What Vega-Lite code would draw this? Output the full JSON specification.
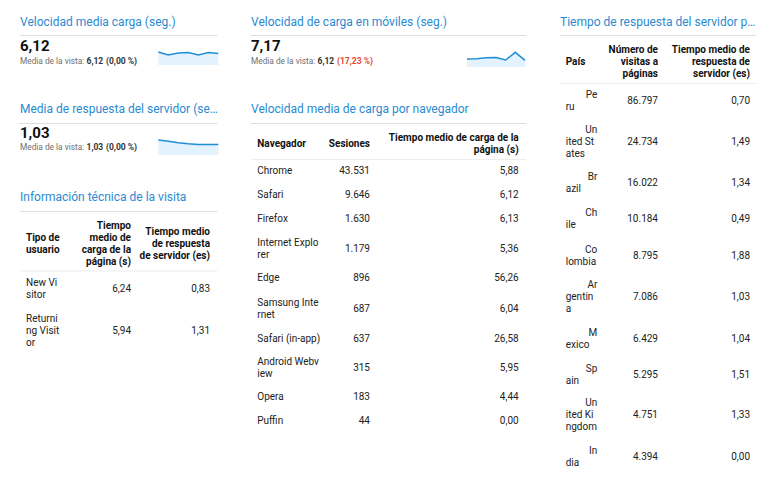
{
  "$schema": "https://vega.github.io/schema/vega-lite/v6.json",
  "width": 771,
  "height": 492,
  "padding": 0,
  "autosize": {"type": "none"},
  "background": "#ffffff",
  "config": {
    "view": {"stroke": null},
    "font": "Roboto",
    "text": {"font": "Roboto"},
    "locale": {"number": {"decimal": ",", "thousands": ".", "grouping": [3], "currency": ["", " €"]}}
  },
  "datasets": {
    "titulos": [
      {"col": 0, "fila": 0, "titulo": "Velocidad media carga (seg.)"},
      {"col": 1, "fila": 0, "titulo": "Velocidad de carga en móviles (seg.)"},
      {"col": 2, "fila": 0, "titulo": "Tiempo de respuesta del servidor p…"},
      {"col": 0, "fila": 1, "titulo": "Media de respuesta del servidor (se…"},
      {"col": 1, "fila": 1, "titulo": "Velocidad media de carga por navegador"},
      {"col": 0, "fila": 2, "titulo": "Información técnica de la visita"}
    ],
    "tablas": [
      {"col": 0, "tabla": "Información técnica de la visita"},
      {"col": 1, "tabla": "Velocidad media de carga por navegador"},
      {"col": 2, "tabla": "Tiempo de respuesta del servidor por país"}
    ],
    "kpis": [
      {"col": 0, "fila": 0, "kpi": "carga", "valor": 6.12, "media": 6.12, "variacion": "(0,00 %)", "estado": "igual"},
      {"col": 1, "fila": 0, "kpi": "movil", "valor": 7.17, "media": 6.12, "variacion": "(17,23 %)", "estado": "peor"},
      {"col": 0, "fila": 1, "kpi": "servidor", "valor": 1.03, "media": 1.03, "variacion": "(0,00 %)", "estado": "igual"}
    ],
    "tendencias": [
      {"kpi": "carga", "dia": 1, "valor": 6.19},
      {"kpi": "carga", "dia": 2, "valor": 6.03},
      {"kpi": "carga", "dia": 3, "valor": 6.14},
      {"kpi": "carga", "dia": 4, "valor": 6.17},
      {"kpi": "carga", "dia": 5, "valor": 6.03},
      {"kpi": "carga", "dia": 6, "valor": 6.17},
      {"kpi": "carga", "dia": 7, "valor": 6.11},
      {"kpi": "movil", "dia": 1, "valor": 6.91},
      {"kpi": "movil", "dia": 2, "valor": 6.95},
      {"kpi": "movil", "dia": 3, "valor": 7.12},
      {"kpi": "movil", "dia": 4, "valor": 7.18},
      {"kpi": "movil", "dia": 5, "valor": 6.74},
      {"kpi": "movil", "dia": 6, "valor": 8.09},
      {"kpi": "movil", "dia": 7, "valor": 6.68},
      {"kpi": "servidor", "dia": 1, "valor": 1.21},
      {"kpi": "servidor", "dia": 2, "valor": 1.15},
      {"kpi": "servidor", "dia": 3, "valor": 1.08},
      {"kpi": "servidor", "dia": 4, "valor": 1.03},
      {"kpi": "servidor", "dia": 5, "valor": 1.0},
      {"kpi": "servidor", "dia": 6, "valor": 1.0},
      {"kpi": "servidor", "dia": 7, "valor": 1.0}
    ],
    "usuarios": [
      {"fila": 0, "columna": 1, "texto": "Tipo de\nusuario"},
      {"fila": 0, "columna": 2, "texto": "Tiempo\nmedio de\ncarga de la\npágina (s)"},
      {"fila": 0, "columna": 3, "texto": "Tiempo medio\nde respuesta\nde servidor (es)"},
      {"fila": 1, "columna": 1, "texto": "New Vi\nsitor"},
      {"fila": 1, "columna": 2, "valor": 6.24},
      {"fila": 1, "columna": 3, "valor": 0.83},
      {"fila": 2, "columna": 1, "texto": "Returni\nng Visit\nor"},
      {"fila": 2, "columna": 2, "valor": 5.94},
      {"fila": 2, "columna": 3, "valor": 1.31}
    ],
    "navegadores": [
      {"fila": 0, "columna": 1, "texto": "Navegador"},
      {"fila": 0, "columna": 2, "texto": "Sesiones"},
      {"fila": 0, "columna": 3, "texto": "Tiempo medio de carga de la\npágina (s)"},
      {"fila": 1, "columna": 1, "texto": "Chrome"},
      {"fila": 1, "columna": 2, "valor": 43531},
      {"fila": 1, "columna": 3, "valor": 5.88},
      {"fila": 2, "columna": 1, "texto": "Safari"},
      {"fila": 2, "columna": 2, "valor": 9646},
      {"fila": 2, "columna": 3, "valor": 6.12},
      {"fila": 3, "columna": 1, "texto": "Firefox"},
      {"fila": 3, "columna": 2, "valor": 1630},
      {"fila": 3, "columna": 3, "valor": 6.13},
      {"fila": 4, "columna": 1, "texto": "Internet Explo\nrer"},
      {"fila": 4, "columna": 2, "valor": 1179},
      {"fila": 4, "columna": 3, "valor": 5.36},
      {"fila": 5, "columna": 1, "texto": "Edge"},
      {"fila": 5, "columna": 2, "valor": 896},
      {"fila": 5, "columna": 3, "valor": 56.26},
      {"fila": 6, "columna": 1, "texto": "Samsung Inte\nrnet"},
      {"fila": 6, "columna": 2, "valor": 687},
      {"fila": 6, "columna": 3, "valor": 6.04},
      {"fila": 7, "columna": 1, "texto": "Safari (in-app)"},
      {"fila": 7, "columna": 2, "valor": 637},
      {"fila": 7, "columna": 3, "valor": 26.58},
      {"fila": 8, "columna": 1, "texto": "Android Webv\niew"},
      {"fila": 8, "columna": 2, "valor": 315},
      {"fila": 8, "columna": 3, "valor": 5.95},
      {"fila": 9, "columna": 1, "texto": "Opera"},
      {"fila": 9, "columna": 2, "valor": 183},
      {"fila": 9, "columna": 3, "valor": 4.44},
      {"fila": 10, "columna": 1, "texto": "Puffin"},
      {"fila": 10, "columna": 2, "valor": 44},
      {"fila": 10, "columna": 3, "valor": 0.0}
    ],
    "paises": [
      {"fila": 0, "columna": 1, "texto": "País"},
      {"fila": 0, "columna": 2, "texto": "Número de\nvisitas a\npáginas"},
      {"fila": 0, "columna": 3, "texto": "Tiempo medio de\nrespuesta de\nservidor (es)"},
      {"fila": 1, "columna": 1, "linea1": "Pe", "resto": "ru"},
      {"fila": 1, "columna": 2, "valor": 86797},
      {"fila": 1, "columna": 3, "valor": 0.70},
      {"fila": 2, "columna": 1, "linea1": "Un", "resto": "ited St\nates"},
      {"fila": 2, "columna": 2, "valor": 24734},
      {"fila": 2, "columna": 3, "valor": 1.49},
      {"fila": 3, "columna": 1, "linea1": "Br", "resto": "azil"},
      {"fila": 3, "columna": 2, "valor": 16022},
      {"fila": 3, "columna": 3, "valor": 1.34},
      {"fila": 4, "columna": 1, "linea1": "Ch", "resto": "ile"},
      {"fila": 4, "columna": 2, "valor": 10184},
      {"fila": 4, "columna": 3, "valor": 0.49},
      {"fila": 5, "columna": 1, "linea1": "Co", "resto": "lombia"},
      {"fila": 5, "columna": 2, "valor": 8795},
      {"fila": 5, "columna": 3, "valor": 1.88},
      {"fila": 6, "columna": 1, "linea1": "Ar", "resto": "gentin\na"},
      {"fila": 6, "columna": 2, "valor": 7086},
      {"fila": 6, "columna": 3, "valor": 1.03},
      {"fila": 7, "columna": 1, "linea1": "M", "resto": "exico"},
      {"fila": 7, "columna": 2, "valor": 6429},
      {"fila": 7, "columna": 3, "valor": 1.04},
      {"fila": 8, "columna": 1, "linea1": "Sp", "resto": "ain"},
      {"fila": 8, "columna": 2, "valor": 5295},
      {"fila": 8, "columna": 3, "valor": 1.51},
      {"fila": 9, "columna": 1, "linea1": "Un", "resto": "ited Ki\nngdom"},
      {"fila": 9, "columna": 2, "valor": 4751},
      {"fila": 9, "columna": 3, "valor": 1.33},
      {"fila": 10, "columna": 1, "linea1": "In", "resto": "dia"},
      {"fila": 10, "columna": 2, "valor": 4394},
      {"fila": 10, "columna": 3, "valor": 0.0}
    ]
  },
  "layer": [
    {
      "data": {"name": "titulos"},
      "mark": {"type": "text", "align": "left", "baseline": "alphabetic", "fontSize": 12, "color": "#2a8ad2"},
      "encoding": {
        "x": {"field": "col", "type": "quantitative", "axis": null, "scale": {"domain": [0, 1, 2], "range": [20, 251, 560], "zero": false, "nice": false}},
        "y": {"field": "fila", "type": "quantitative", "axis": null, "scale": {"domain": [0, 2], "range": [26, 200.7], "zero": false, "nice": false}},
        "text": {"field": "titulo"}
      }
    },
    {
      "data": {"name": "titulos"},
      "mark": {"type": "tick", "orient": "horizontal", "thickness": 1, "color": "#dddddd", "opacity": 1},
      "encoding": {
        "x": {"field": "col", "type": "quantitative", "axis": null, "scale": {"domain": [0, 1, 2], "range": [118.5, 388.5, 658], "zero": false, "nice": false}},
        "y": {"field": "fila", "type": "quantitative", "axis": null, "scale": {"domain": [0, 2], "range": [35.5, 211.5], "zero": false, "nice": false}},
        "size": {"field": "col", "type": "quantitative", "legend": null, "scale": {"domain": [0, 1, 2], "range": [198, 275, 196], "zero": false, "nice": false}}
      }
    },
    {
      "data": {"name": "tablas"},
      "mark": {"type": "tick", "orient": "horizontal", "thickness": 1, "color": "#eeeeee", "opacity": 1},
      "encoding": {
        "x": {"field": "col", "type": "quantitative", "axis": null, "scale": {"domain": [0, 1, 2], "range": [118.5, 388.5, 658], "zero": false, "nice": false}},
        "y": {"field": "col", "type": "quantitative", "axis": null, "scale": {"domain": [0, 1, 2], "range": [271, 159.5, 83.5], "zero": false, "nice": false}},
        "size": {"field": "col", "type": "quantitative", "legend": null, "scale": {"domain": [0, 1, 2], "range": [198, 275, 196], "zero": false, "nice": false}}
      }
    },
    {
      "data": {"name": "kpis"},
      "mark": {"type": "text", "align": "left", "baseline": "alphabetic", "fontSize": 15, "fontWeight": "bold", "color": "#111111"},
      "encoding": {
        "x": {"field": "col", "type": "quantitative", "axis": null, "scale": {"domain": [0, 1], "range": [20, 251], "zero": false, "nice": false}},
        "y": {"field": "fila", "type": "quantitative", "axis": null, "scale": {"domain": [0, 1], "range": [51, 138], "zero": false, "nice": false}},
        "text": {"field": "valor", "type": "quantitative", "format": ".2f"}
      }
    },
    {
      "data": {"name": "kpis"},
      "encoding": {
        "x": {"field": "col", "type": "quantitative", "axis": null, "scale": {"domain": [0, 1], "range": [20, 251], "zero": false, "nice": false}},
        "y": {"field": "fila", "type": "quantitative", "axis": null, "scale": {"domain": [0, 1], "range": [64, 150], "zero": false, "nice": false}}
      },
      "layer": [
        {
          "mark": {"type": "text", "align": "left", "baseline": "alphabetic", "fontSize": 8.3, "color": "#6f6f6f"},
          "encoding": {"text": {"value": "Media de la vista:"}}
        },
        {
          "mark": {"type": "text", "align": "left", "baseline": "alphabetic", "fontSize": 8.5, "fontWeight": "bold", "color": "#333333", "dx": 66.5},
          "encoding": {"text": {"field": "media", "type": "quantitative", "format": ".2f"}}
        },
        {
          "mark": {"type": "text", "align": "left", "baseline": "alphabetic", "fontSize": 8.5, "fontWeight": "bold", "dx": 86},
          "encoding": {
            "text": {"field": "variacion"},
            "color": {"condition": {"test": "datum.estado == 'peor'", "value": "#e0492f"}, "value": "#333333"}
          }
        }
      ]
    },
    {
      "data": {"name": "tendencias"},
      "transform": [{"filter": "datum.kpi == 'carga'"}],
      "encoding": {
        "x": {"field": "dia", "type": "quantitative", "axis": null, "scale": {"domain": [1, 7], "range": [158.3, 218.3], "zero": false, "nice": false}},
        "y": {"field": "valor", "type": "quantitative", "axis": null, "scale": {"domain": [5.5, 6.3], "range": [65, 50], "zero": false, "nice": false, "clamp": true}}
      },
      "layer": [
        {"mark": {"type": "area", "color": "#e3f2fc", "opacity": 1}},
        {"mark": {"type": "line", "color": "#1f8fd6", "strokeWidth": 1.5}}
      ]
    },
    {
      "data": {"name": "tendencias"},
      "transform": [{"filter": "datum.kpi == 'movil'"}],
      "encoding": {
        "x": {"field": "dia", "type": "quantitative", "axis": null, "scale": {"domain": [1, 7], "range": [467, 525], "zero": false, "nice": false}},
        "y": {"field": "valor", "type": "quantitative", "axis": null, "scale": {"domain": [5.5, 8.5], "range": [67, 50], "zero": false, "nice": false, "clamp": true}}
      },
      "layer": [
        {"mark": {"type": "area", "color": "#e3f2fc", "opacity": 1}},
        {"mark": {"type": "line", "color": "#1f8fd6", "strokeWidth": 1.5}}
      ]
    },
    {
      "data": {"name": "tendencias"},
      "transform": [{"filter": "datum.kpi == 'servidor'"}],
      "encoding": {
        "x": {"field": "dia", "type": "quantitative", "axis": null, "scale": {"domain": [1, 7], "range": [158.3, 218.3], "zero": false, "nice": false}},
        "y": {"field": "valor", "type": "quantitative", "axis": null, "scale": {"domain": [0.5, 1.3], "range": [155, 138], "zero": false, "nice": false, "clamp": true}}
      },
      "layer": [
        {"mark": {"type": "area", "color": "#e3f2fc", "opacity": 1}},
        {"mark": {"type": "line", "color": "#1f8fd6", "strokeWidth": 1.5}}
      ]
    },
    {
      "data": {"name": "usuarios"},
      "encoding": {
        "x": {"field": "columna", "type": "quantitative", "axis": null, "scale": {"domain": [1, 2, 3], "range": [26, 131, 210], "zero": false, "nice": false}},
        "y": {"field": "fila", "type": "quantitative", "axis": null, "scale": {"domain": [0, 1, 2], "range": [244, 288.7, 331], "zero": false, "nice": false}}
      },
      "layer": [
        {
          "transform": [{"filter": "datum.fila == 0 && datum.columna == 1"}, {"calculate": "length(split(datum.texto, '\\n'))", "as": "lineas"}],
          "mark": {"type": "text", "align": "left", "baseline": "middle", "fontSize": 10, "lineHeight": 12, "fontWeight": "bold", "lineBreak": "\n", "color": "#111111", "dy": {"expr": "(1 - datum.lineas) * 6"}},
          "encoding": {"text": {"field": "texto"}}
        },
        {
          "transform": [{"filter": "datum.fila == 0 && datum.columna > 1"}, {"calculate": "length(split(datum.texto, '\\n'))", "as": "lineas"}],
          "mark": {"type": "text", "align": "right", "baseline": "middle", "fontSize": 10, "lineHeight": 12, "fontWeight": "bold", "lineBreak": "\n", "color": "#111111", "dy": {"expr": "(1 - datum.lineas) * 6"}},
          "encoding": {"text": {"field": "texto"}}
        },
        {
          "transform": [{"filter": "datum.fila > 0 && datum.columna == 1"}, {"calculate": "length(split(datum.texto, '\\n'))", "as": "lineas"}],
          "mark": {"type": "text", "align": "left", "baseline": "middle", "fontSize": 10, "lineHeight": 12, "lineBreak": "\n", "color": "#222222", "dy": {"expr": "(1 - datum.lineas) * 6"}},
          "encoding": {"text": {"field": "texto"}}
        },
        {
          "transform": [{"filter": "datum.fila > 0 && datum.columna > 1"}],
          "mark": {"type": "text", "align": "right", "baseline": "middle", "fontSize": 10, "color": "#222222"},
          "encoding": {"text": {"field": "valor", "type": "quantitative", "format": ",.2f"}}
        }
      ]
    },
    {
      "data": {"name": "navegadores"},
      "encoding": {
        "x": {"field": "columna", "type": "quantitative", "axis": null, "scale": {"domain": [1, 2, 3], "range": [257.3, 370, 518.7], "zero": false, "nice": false}},
        "y": {"field": "fila", "type": "quantitative", "axis": null, "scale": {"domain": [0, 1, 2, 3, 4, 5, 6, 7, 8, 9, 10], "range": [144, 171, 195.3, 219.3, 249, 278, 308.5, 338.7, 368, 397, 421], "zero": false, "nice": false}}
      },
      "layer": [
        {
          "transform": [{"filter": "datum.fila == 0 && datum.columna == 1"}, {"calculate": "length(split(datum.texto, '\\n'))", "as": "lineas"}],
          "mark": {"type": "text", "align": "left", "baseline": "middle", "fontSize": 10, "lineHeight": 12, "fontWeight": "bold", "lineBreak": "\n", "color": "#111111", "dy": {"expr": "(1 - datum.lineas) * 6"}},
          "encoding": {"text": {"field": "texto"}}
        },
        {
          "transform": [{"filter": "datum.fila == 0 && datum.columna > 1"}, {"calculate": "length(split(datum.texto, '\\n'))", "as": "lineas"}],
          "mark": {"type": "text", "align": "right", "baseline": "middle", "fontSize": 10, "lineHeight": 12, "fontWeight": "bold", "lineBreak": "\n", "color": "#111111", "dy": {"expr": "(1 - datum.lineas) * 6"}},
          "encoding": {"text": {"field": "texto"}}
        },
        {
          "transform": [{"filter": "datum.fila > 0 && datum.columna == 1"}, {"calculate": "length(split(datum.texto, '\\n'))", "as": "lineas"}],
          "mark": {"type": "text", "align": "left", "baseline": "middle", "fontSize": 10, "lineHeight": 12, "lineBreak": "\n", "color": "#222222", "dy": {"expr": "(1 - datum.lineas) * 6"}},
          "encoding": {"text": {"field": "texto"}}
        },
        {
          "transform": [{"filter": "datum.fila > 0 && datum.columna == 2"}],
          "mark": {"type": "text", "align": "right", "baseline": "middle", "fontSize": 10, "color": "#222222"},
          "encoding": {"text": {"field": "valor", "type": "quantitative", "format": ",d"}}
        },
        {
          "transform": [{"filter": "datum.fila > 0 && datum.columna == 3"}],
          "mark": {"type": "text", "align": "right", "baseline": "middle", "fontSize": 10, "color": "#222222"},
          "encoding": {"text": {"field": "valor", "type": "quantitative", "format": ",.2f"}}
        }
      ]
    },
    {
      "data": {"name": "paises"},
      "encoding": {
        "x": {"field": "columna", "type": "quantitative", "axis": null, "scale": {"domain": [1, 2, 3], "range": [565.7, 658, 750], "zero": false, "nice": false}},
        "y": {"field": "fila", "type": "quantitative", "axis": null, "scale": {"domain": [0, 1, 2, 3, 4, 5, 6, 7, 8, 9, 10], "range": [62, 101, 142.3, 183, 219.2, 256, 297.2, 339, 375, 415, 457], "zero": false, "nice": false}}
      },
      "layer": [
        {
          "transform": [{"filter": "datum.fila == 0 && datum.columna == 1"}, {"calculate": "length(split(datum.texto, '\\n'))", "as": "lineas"}],
          "mark": {"type": "text", "align": "left", "baseline": "middle", "fontSize": 10, "lineHeight": 12, "fontWeight": "bold", "lineBreak": "\n", "color": "#111111", "dy": {"expr": "(1 - datum.lineas) * 6"}},
          "encoding": {"text": {"field": "texto"}}
        },
        {
          "transform": [{"filter": "datum.fila == 0 && datum.columna > 1"}, {"calculate": "length(split(datum.texto, '\\n'))", "as": "lineas"}],
          "mark": {"type": "text", "align": "right", "baseline": "middle", "fontSize": 10, "lineHeight": 12, "fontWeight": "bold", "lineBreak": "\n", "color": "#111111", "dy": {"expr": "(1 - datum.lineas) * 6"}},
          "encoding": {"text": {"field": "texto"}}
        },
        {
          "transform": [
            {"filter": "datum.fila > 0 && datum.columna == 1"},
            {"calculate": "datum.linea1 + (indexof(datum.resto, '\\n') >= 0 ? '\\n \\n ' : '\\n ')", "as": "bloque1"},
            {"calculate": "length(split(datum.bloque1, '\\n'))", "as": "lineas"}
          ],
          "mark": {"type": "text", "align": "right", "baseline": "middle", "fontSize": 10, "lineHeight": 12, "lineBreak": "\n", "color": "#222222", "dx": 31.6, "dy": {"expr": "(1 - datum.lineas) * 6"}},
          "encoding": {"text": {"field": "bloque1"}}
        },
        {
          "transform": [
            {"filter": "datum.fila > 0 && datum.columna == 1"},
            {"calculate": "'\\n' + datum.resto", "as": "bloque2"},
            {"calculate": "length(split(datum.bloque2, '\\n'))", "as": "lineas"}
          ],
          "mark": {"type": "text", "align": "left", "baseline": "middle", "fontSize": 10, "lineHeight": 12, "lineBreak": "\n", "color": "#222222", "dy": {"expr": "(1 - datum.lineas) * 6"}},
          "encoding": {"text": {"field": "bloque2"}}
        },
        {
          "transform": [{"filter": "datum.fila > 0 && datum.columna == 2"}],
          "mark": {"type": "text", "align": "right", "baseline": "middle", "fontSize": 10, "color": "#222222"},
          "encoding": {"text": {"field": "valor", "type": "quantitative", "format": ",d"}}
        },
        {
          "transform": [{"filter": "datum.fila > 0 && datum.columna == 3"}],
          "mark": {"type": "text", "align": "right", "baseline": "middle", "fontSize": 10, "color": "#222222"},
          "encoding": {"text": {"field": "valor", "type": "quantitative", "format": ",.2f"}}
        }
      ]
    }
  ],
  "resolve": {"scale": {"x": "independent", "y": "independent", "size": "independent", "color": "independent"}}
}
